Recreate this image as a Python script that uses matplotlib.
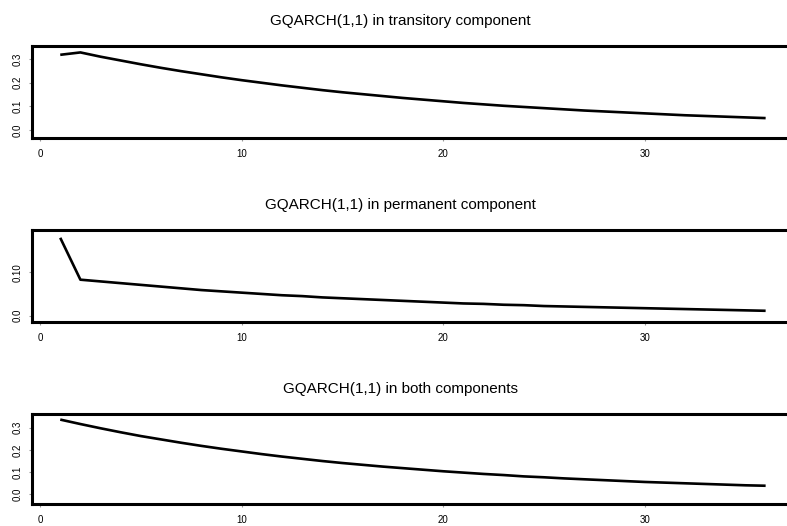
import numpy as np
import matplotlib
matplotlib.use("Agg")
from matplotlib import pyplot as plt

plt.rcParams['font.family'] = ['Liberation Sans', 'DejaVu Sans']

horizon = list(range(1, 37))

# impulse responses, one per model
transitory = [0.317, 0.327, 0.309, 0.293, 0.277, 0.262, 0.248, 0.235, 0.222, 0.210,
              0.199, 0.188, 0.178, 0.168, 0.159, 0.151, 0.143, 0.135, 0.128, 0.121,
              0.114, 0.108, 0.102, 0.097, 0.092, 0.087, 0.082, 0.078, 0.074, 0.070,
              0.066, 0.062, 0.059, 0.056, 0.053, 0.050]
permanent = [0.180, 0.083, 0.079, 0.075, 0.071, 0.067, 0.063, 0.059, 0.056, 0.053,
             0.050, 0.047, 0.045, 0.042, 0.040, 0.038, 0.036, 0.034, 0.032, 0.030,
             0.028, 0.027, 0.025, 0.024, 0.022, 0.021, 0.020, 0.019, 0.018, 0.017,
             0.016, 0.015, 0.014, 0.013, 0.012, 0.011]
both = [0.336, 0.316, 0.297, 0.279, 0.262, 0.247, 0.232, 0.218, 0.205, 0.193,
        0.181, 0.170, 0.160, 0.150, 0.141, 0.133, 0.125, 0.118, 0.111, 0.104,
        0.098, 0.092, 0.087, 0.081, 0.077, 0.072, 0.068, 0.064, 0.060, 0.056,
        0.053, 0.050, 0.047, 0.044, 0.041, 0.039]

titles = ["GQARCH(1,1) in transitory component",
          "GQARCH(1,1) in permanent component",
          "GQARCH(1,1) in both components"]
xticks = [0, 10, 20, 30]
yticks = [[0.0, 0.1, 0.2, 0.3], [0.0, 0.10], [0.0, 0.1, 0.2, 0.3]]
yticklabels = [["0.0", "0.1", "0.2", "0.3"], ["0.0", "0.10"], ["0.0", "0.1", "0.2", "0.3"]]
ylims = [(-0.034, 0.354), (-0.015, 0.198), (-0.043, 0.361)]

# panel boxes in figure fractions: left, bottom, width, height
boxes = [(0.0407, 0.7376, 0.968, 0.1749),
         (0.0407, 0.3878, 0.968, 0.1749),
         (0.0407, 0.0418, 0.968, 0.1711)]

fig = plt.figure(figsize=(7.87, 5.26), dpi=100)
for series, title, yt, ytl, yl, box in zip([transitory, permanent, both], titles,
                                           yticks, yticklabels, ylims, boxes):
    ax = fig.add_axes(box)
    ax.plot(horizon, series, color='black', linewidth=1.9, solid_capstyle='butt')
    ax.set_xlim(-0.4, 37.4)
    ax.set_ylim(*yl)
    ax.set_xticks(xticks)
    ax.set_xticklabels([str(t) for t in xticks], fontsize=7)
    ax.set_yticks(yt)
    ax.set_yticklabels(ytl, fontsize=7, rotation=90, va='center')
    ax.tick_params(length=2, width=0.8, color='#999999')
    ax.tick_params(axis='x', pad=6)
    ax.tick_params(axis='y', pad=5)
    for s in ax.spines.values():
        s.set_linewidth(2.2)
    # titles sit a little left of the panel centre
    ax.set_title(title, fontsize=11, pad=15, x=0.484)

fig.savefig("out.png", dpi=100)
